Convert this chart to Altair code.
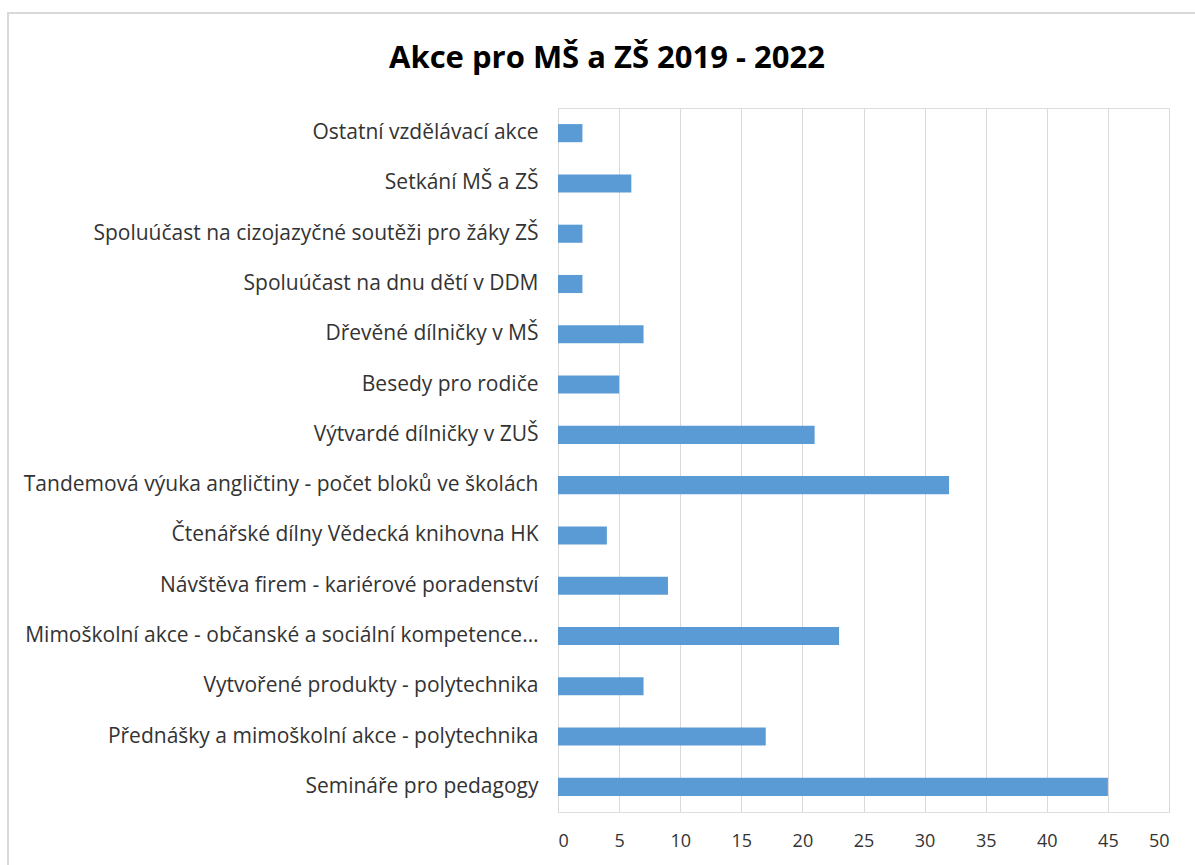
import altair as alt
import pandas as pd

categories = [
    "Ostatní vzdělávací akce",
    "Setkání MŠ a ZŠ",
    "Spoluúčast na cizojazyčné soutěži pro žáky ZŠ",
    "Spoluúčast na dnu dětí v DDM",
    "Dřevěné dílničky v MŠ",
    "Besedy pro rodiče",
    "Výtvardé dílničky v ZUŠ",
    "Tandemová výuka angličtiny - počet bloků ve školách",
    "Čtenářské dílny Vědecká knihovna HK",
    "Návštěva firem - kariérové poradenství",
    "Mimoškolní akce - občanské a sociální kompetence…",
    "Vytvořené produkty - polytechnika",
    "Přednášky a mimoškolní akce - polytechnika",
    "Semináře pro pedagogy",
]
values = [2, 6, 2, 2, 7, 5, 21, 32, 4, 9, 23, 7, 17, 45]
x_ticks = list(range(0, 55, 5))
title_text = ["Akce pro MŠ a ZŠ 2019 - 2022"]

df = pd.DataFrame({"cat": categories, "val": values})
tdf = pd.DataFrame({"t": title_text})

FONT = "Open Sans"

bars = alt.Chart(df).mark_bar(color="#5B9BD5").encode(
    x=alt.X("val:Q", scale=alt.Scale(domain=[0, 50], nice=False),
            axis=alt.Axis(values=x_ticks, title=None, grid=True, gridColor="#D9D9D9",
                          domain=False, ticks=False, labelPadding=20,
                          labelFontSize=18, labelColor="#333333", labelFont=FONT)),
    y=alt.Y("cat:N", sort=categories,
            scale=alt.Scale(paddingInner=0.64, paddingOuter=0.32),
            axis=alt.Axis(title=None, domain=True, domainColor="#D9D9D9", ticks=False,
                          labelPadding=20, labelFontSize=21, labelColor="#333333",
                          labelFont=FONT, labelLimit=600)),
)

border = alt.Chart(df).mark_rect(fill=None, stroke="#D9D9D9", strokeWidth=1.5).encode(
    x=alt.value(-550), x2=alt.value(650), y=alt.value(-95), y2=alt.value(780)
)

title = alt.Chart(tdf).mark_text(
    font=FONT, fontSize=31, fontWeight="bold", color="#000000",
    align="center", baseline="alphabetic"
).encode(text="t:N", x=alt.value(49), y=alt.value(-40))

chart = alt.layer(border, bars, title).properties(
    width=611, height=704,
    autosize=alt.AutoSizeParams(type="none"),
    padding={"left": 558, "top": 108, "right": 26, "bottom": 53},
).configure_view(stroke=None).configure(background="white")

chart.save("out.html", embed_options={"renderer": "svg", "actions": False})
